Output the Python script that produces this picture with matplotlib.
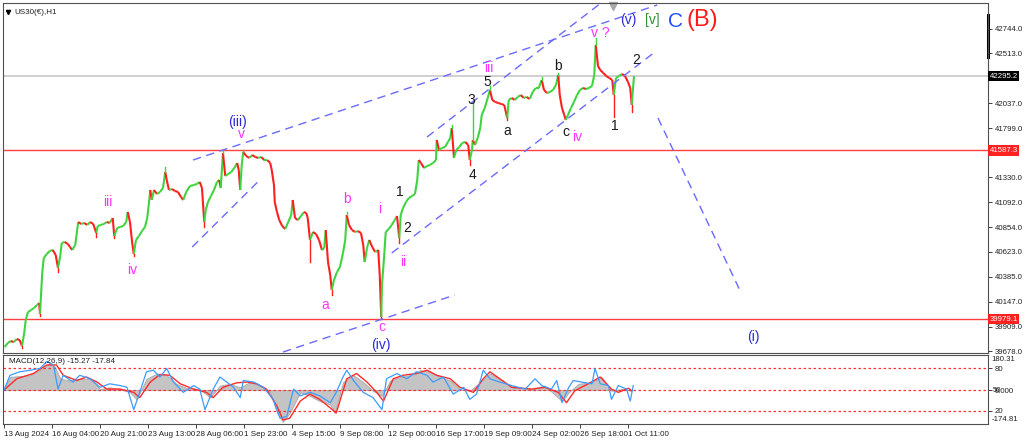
import numpy as np
import matplotlib.pyplot as plt
from matplotlib.collections import LineCollection
from matplotlib.transforms import blended_transform_factory


#############################################################
# US30 H1 price path, hourly bar number since 13 Aug 2024 00:00 and close
bar_a = [1, 5, 9, 13, 17, 21, 24, 27, 29, 32, 36, 40, 44, 47, 48, 51, 53, 57, 61, 65,
         69, 72, 75, 77, 81, 85, 88, 91, 95, 99, 103, 107, 111, 115, 119, 123, 125, 129, 133, 137,
         141, 145, 147, 151, 155, 159, 163, 165, 168, 171, 173, 176, 180, 184, 188, 191, 193, 195, 197, 200,
         204, 208, 212, 215, 217]
close_a = [39716, 39754, 39773, 39763, 39792, 39782, 39725, 39849, 39973, 40049, 40068, 40087, 40116, 40135, 40030, 40420, 40563, 40601, 40630, 40640,
           40592, 40468, 40582, 40706, 40716, 40697, 40668, 40640, 40687, 40906, 40887, 40897, 40878, 40906, 40887, 40801, 40868, 40878, 40887, 40906,
           40897, 40944, 40773, 40849, 40859, 40868, 40906, 41001, 40906, 40706, 40601, 40735, 40773, 40820, 40859, 40944, 41068, 41211, 41116, 41211,
           41173, 41192, 41230, 41382, 41306]

bar_b = [220, 224, 228, 232, 236, 239, 243, 248, 253, 257, 261, 264, 267, 269, 272, 276, 280, 284, 287, 289,
         292, 295, 299, 303, 307, 311, 313, 315, 317, 319, 323, 327, 331, 335, 339, 343, 347, 351, 355, 357,
         360, 361, 364, 367, 371, 375, 379, 383, 385, 388, 392, 396, 400, 403, 405, 408, 412, 416, 420, 424,
         427, 429, 432, 435]
close_b = [41211, 41220, 41201, 41192, 41144, 41116, 41192, 41249, 41258, 41268, 41287, 41230, 40906, 41020, 41097, 41154, 41211, 41287, 41306, 41230,
           41563, 41344, 41363, 41382, 41420, 41468, 41401, 41211, 41449, 41573, 41535, 41516, 41544, 41525, 41516, 41525, 41496, 41496, 41468, 41401,
           41258, 41097, 41001, 40925, 40868, 40839, 40906, 40973, 41116, 40944, 40925, 40963, 41001, 40992, 40944, 40735, 40811, 40792, 40735, 40640,
           40658, 40830, 40525, 40401]

bar_c = [437, 440, 444, 448, 452, 455, 457, 460, 464, 468, 472, 476, 479, 481, 484, 487, 491, 495, 499, 501,
         503, 504, 507, 509, 513, 517, 521, 524, 527, 529, 532, 536, 540, 544, 548, 551, 553, 556, 560, 564,
         568, 572, 576, 577, 580, 584, 588, 592, 595, 597, 600, 603, 607, 611, 615, 619, 621, 624, 625, 628,
         632, 635, 637, 641, 645, 648]
close_c = [40259, 40354, 40430, 40478, 40611, 40735, 40973, 40878, 40830, 40811, 40820, 40801, 40687, 40525, 40658, 40735, 40668, 40620, 40640, 40401,
           40002, 40306, 40592, 40811, 40839, 40878, 40925, 40963, 40754, 40973, 41039, 41097, 41135, 41154, 41173, 41306, 41496, 41468, 41420, 41439,
           41449, 41468, 41496, 41687, 41592, 41611, 41620, 41668, 41706, 41801, 41516, 41592, 41620, 41658, 41668, 41639, 41496, 41592, 41687, 41639,
           41715, 41801, 41925, 41992, 42087, 42163]

bar_d = [651, 655, 659, 663, 667, 671, 673, 677, 681, 685, 689, 693, 697, 701, 705, 709, 713, 717, 720, 724,
         728, 732, 736, 739, 741, 744, 747, 749, 752, 756, 760, 764, 768, 772, 776, 780, 784, 787, 789, 792,
         795, 799, 803, 807, 811, 813, 816, 820, 824, 828, 832, 835, 837, 840]
close_d = [42068, 42049, 42039, 42030, 42020, 41896, 42068, 42087, 42068, 42096, 42115, 42087, 42096, 42077, 42144, 42182, 42182, 42258, 42163, 42134,
           42144, 42163, 42211, 42306, 42115, 41992, 41925, 41877, 41925, 41992, 42049, 42115, 42163, 42182, 42172, 42182, 42201, 42306, 42592, 42392,
           42353, 42325, 42296, 42277, 42258, 42115, 42277, 42296, 42315, 42296, 42239, 42182, 42020, 42295.2]

# wick extremes (high or low) of single bars
spike_bar = [24, 48, 72, 123, 147, 173, 215, 267, 292, 319, 408, 437, 457, 503, 527, 597, 621, 625, 648, 671, 717, 739, 749, 789, 813, 837]
spike_price = [39706, 40011, 40430, 40763, 40754, 40582, 41430, 40859, 41592, 41592, 40525, 40211, 41001, 39982, 40706, 41830, 41449, 42039, 42201, 41877, 42287, 42325, 41877, 42658, 41906, 41953]

bid = 42295.2
level_hi = 41587.3
level_lo = 39979.1
price_ticks = [42744.0, 42513.0, 42037.0, 41799.0, 41330.0, 41092.0, 40854.0, 40623.0, 40385.0, 40147.0, 39909.0, 39678.0]

time_ticks = [0, 64, 128, 192, 256, 320, 384, 448, 512, 576, 640, 704, 768, 832]
time_labels = ['13 Aug 2024', '16 Aug 04:00', '20 Aug 21:00', '23 Aug 13:00', '28 Aug 06:00', '1 Sep 23:00', '4 Sep 15:00',
               '9 Sep 08:00', '12 Sep 00:00', '16 Sep 17:00', '19 Sep 09:00', '24 Sep 02:00', '26 Sep 18:00', '1 Oct 11:00']

# MACD pane
hist_bar = [0, 8, 35, 48, 61, 68, 75, 88, 101, 115, 128, 141, 155, 168, 177, 190, 204, 217, 230, 244,
            261, 275, 288, 301, 315, 328, 341, 355, 364, 372, 381, 395, 408, 421, 435, 441, 452, 466, 479, 492,
            504, 515, 528, 541, 555, 568, 581, 595, 608, 621, 635, 648, 661, 677, 704, 721, 744, 753, 766, 784,
            797, 810, 824, 837]
hist_val = [0, 68, 76, 102, 138, 120, 58, 49, 58, 58, 5, 14, 5, -12, -48, 58, 85, 76, 32, 9,
            5, -39, 23, 32, 14, 41, 23, -12, -118, -163, -118, -12, -30, -57, -74, -118, 41, 76, 41, -4,
            -30, 49, 67, 76, 102, 94, 67, 49, 5, -4, 41, 85, 58, 14, 5, 23, -57, -12, 32, 41,
            67, -4, 5, -4]
sig_bar = [0, 17, 39, 57, 70, 79, 97, 110, 124, 137, 155, 173, 181, 195, 208, 221, 235, 253, 270, 279,
           292, 310, 324, 337, 350, 364, 372, 381, 395, 408, 421, 435, 443, 457, 470, 484, 497, 506, 519, 532,
           550, 564, 577, 595, 608, 626, 639, 648, 661, 677, 704, 721, 739, 750, 761, 779, 795, 810, 819, 833, 837]
sig_val = [0, 58, 85, 129, 129, 76, 49, 67, 41, 5, 5, -12, -39, 41, 80, 76, 32, 5, -12, -39,
           14, 37, 41, 32, 5, -83, -154, -145, -57, -21, -48, -92, -118, 58, 85, 41, -12, -57, 58, 76,
           85, 102, 76, 58, 14, -12, 58, 94, 58, 14, 5, 14, -12, -65, -4, 32, 67, 5, -12, 9, -4]
blue_bar = [0, 8, 21, 35, 48, 57, 66, 72, 79, 92, 101, 115, 128, 141, 155, 164, 173, 181, 190, 199,
            208, 217, 226, 239, 253, 261, 268, 279, 288, 297, 306, 315, 319, 333, 346, 359, 368, 377, 386, 395,
            408, 421, 435, 443, 452, 457, 466, 479, 492, 504, 510, 524, 537, 550, 564, 572, 586, 599, 613, 621,
            630, 639, 648, 661, 677, 695, 708, 717, 730, 737, 744, 753, 759, 770, 784, 788, 795, 806, 810, 819,
            830, 835, 839]
blue_val = [0, 76, 94, 102, 111, 147, 129, 5, 76, 41, 76, 58, 14, 32, 23, 14, -101, -12, 94, 102,
            67, 111, 41, -12, 23, 5, -101, 5, 67, 41, 14, -39, 49, 41, 14, -48, -145, -136, 5, -30,
            -12, -30, -65, -12, 67, 102, 49, -12, -39, -101, 58, 85, 58, 94, 76, 41, 67, -21, 14, -48,
            -21, 102, 58, 41, 23, 5, 58, 23, 5, 49, -65, 14, 49, 41, 32, 111, 32, 23, -48, 23,
            5, -57, 23]
macd_max, macd_min = 180.31, -174.81


##############################################
plt.rcParams['font.family'] = ['Liberation Sans', 'DejaVu Sans']
small = 5.6   # right-hand price scale
xsmall = 5.8  # time scale / captions

W, H = 1024.0, 441.0
fig = plt.figure(figsize=(10.24, 4.41), dpi=100)
ax = fig.add_axes([3 / W, 1 - 353 / H, 985 / W, 350 / H])
ax2 = fig.add_axes([3 / W, 1 - 424 / H, 985 / W, 69 / H], sharex=ax)

green, red = '#3fd43f', '#ff1f1f'
magenta, blue, cblue, black, dgreen = '#ff33ff', '#2a2ad8', '#1f4fff', '#1a1a1a', '#2d8f2d'

bars = np.array(bar_a + bar_b + bar_c + bar_d, float)
closes = np.array(close_a + close_b + close_c + close_d, float)

segs = [[(bars[i - 1], closes[i - 1]), (bars[i], closes[i])] for i in range(1, len(bars))]
cols = [green if closes[i] >= closes[i - 1] else red for i in range(1, len(bars))]
ax.add_collection(LineCollection(segs, colors=cols, linewidths=1.5, zorder=3))

lookup = dict(zip(bars, closes))
for b, p in zip(spike_bar, spike_price):
    c = lookup[b]
    ax.plot([b, b], [c, p], color=green if p > c else red, lw=1.0, zorder=3)

ax.axhline(bid, color='#c8c8c8', lw=1.2, zorder=1)
ax.axhline(level_hi, color='#ff4040', lw=1, zorder=2)
ax.axhline(level_lo, color='#ff4040', lw=1, zorder=2)

# hand drawn trend lines
trend = [((252, 41496), (871, 42972)), ((564, 41715), (796, 42991)), ((251, 40668), (341, 41306)),
         ((372, 39668), (601, 40211)), ((517, 40611), (868, 42525)), ((872, 41896), (981, 40259))]
for (b0, p0), (b1, p1) in trend:
    ax.plot([b0, b1], [p0, p1], color='#6a6aff', lw=1, dashes=(6, 4), zorder=4)

# wave count
waves = [('(iii)', 312, 41858, blue, 10), ('v', 317, 41744, magenta, 10), ('iii', 139, 41097, magenta, 10),
         ('iv', 171, 40449, magenta, 10), ('a', 428, 40116, magenta, 10), ('b', 457, 41125, magenta, 10),
         ('i', 501, 41030, magenta, 10), ('ii', 533, 40525, magenta, 10), ('c', 504, 39906, magenta, 10),
         ('(iv)', 503, 39735, blue, 10), ('1', 528, 41192, black, 10), ('2', 537, 40849, black, 10),
         ('4', 625, 41354, black, 10), ('3', 623, 42068, black, 10), ('5', 645, 42239, black, 10),
         ('iii', 647, 42373, magenta, 10), ('a', 671, 41773, black, 10), ('b', 739, 42392, black, 10),
         ('c', 749, 41763, black, 10), ('iv', 764, 41715, magenta, 10), ('v ?', 795, 42706, magenta, 10),
         ('1', 815, 41820, black, 10), ('2', 843, 42449, black, 10), ('(v)', 833, 42830, blue, 10),
         ('[v]', 864, 42830, dgreen, 10), ('C', 895, 42811, cblue, 15), ('(B)', 931, 42830, '#ff1a1a', 17),
         ('(i)', 999, 39811, blue, 10)]
for txt, b, p, col, fs in waves:
    ax.text(b, p, txt, color=col, fontsize=fs, ha='center', va='center', zorder=5)

ax.set_xlim(-1.3, 1312)
ax.set_ylim(39659, 42991)
ax.yaxis.tick_right()
ax.set_yticks(price_ticks)
ax.set_yticklabels(['%.1f' % v for v in price_ticks])
ax.tick_params(axis='y', labelsize=small, length=3, pad=2, width=0.6, colors='#202020')
ax.tick_params(axis='x', bottom=False, labelbottom=False)
for s in ax.spines.values():
    s.set_color('#505050')
    s.set_linewidth(0.8)

tr = blended_transform_factory(ax.transAxes, ax.transData)
ax.text(1.0015, bid, '42295.2', transform=tr, ha='left', va='center', fontsize=small, color='white',
        bbox=dict(boxstyle='square,pad=0.2', fc='black', ec='none'), zorder=6)
for lv in (level_hi, level_lo):
    ax.text(1.0015, lv, '%.1f' % lv, transform=tr, ha='left', va='center', fontsize=small, color='white',
            bbox=dict(boxstyle='square,pad=0.2', fc='#ff2020', ec='none'), zorder=6)

ax.text(0.012, 0.982, 'US30(€),H1', transform=ax.transAxes, fontsize=xsmall, va='top', ha='left', color='#202020')
ax.plot(0.0055, 0.975, marker='v', color='black', ms=3, transform=ax.transAxes)
ax.plot(812, 0.992, marker='v', color='#a8a8a8', ms=6,
        transform=blended_transform_factory(ax.transData, ax.transAxes), clip_on=False)
ax.plot([1.0, 1.0], [0.966, 0.846], transform=ax.transAxes, color='black', lw=2.2, clip_on=False)

##############################################
ax2.fill_between(hist_bar, 0, hist_val, color='#c4c4c4', lw=0.6, edgecolor='#a8a8a8')
for v in (111, 0, -106):
    ax2.axhline(v, color='#ff3030', lw=0.9, ls=(0, (2, 2)))
ax2.plot(sig_bar, sig_val, color='#ff2a2a', lw=1)
ax2.plot(blue_bar, blue_val, color='#3d9bff', lw=0.9)
ax2.set_ylim(macd_min, macd_max)
ax2.yaxis.tick_right()
ax2.set_yticks([111, 0, -106])
ax2.set_yticklabels(['80', '0.000', '20'])
ax2.tick_params(axis='y', labelsize=small, length=3, pad=2, width=0.6, colors='#202020')
tr2 = blended_transform_factory(ax2.transAxes, ax2.transData)
ax2.text(1.0045, 0, '50', transform=tr2, fontsize=small, va='center', ha='left', color='#202020')
ax2.text(1.0035, 0.93, '180.31', transform=ax2.transAxes, fontsize=small, va='center', ha='left', color='#202020')
ax2.text(1.0035, 0.07, '-174.81', transform=ax2.transAxes, fontsize=small, va='center', ha='left', color='#202020')
ax2.text(0.006, 0.90, 'MACD(12,26,9) -15.27 -17.84', transform=ax2.transAxes, fontsize=xsmall, va='center',
         ha='left', color='#202020')

ax2.set_xticks(time_ticks)
ax2.set_xticklabels(time_labels, ha='left')
ax2.tick_params(axis='x', labelsize=xsmall, length=3, pad=2, width=0.6, colors='#202020')
for s in ax2.spines.values():
    s.set_color('#505050')
    s.set_linewidth(0.8)

fig.savefig('out.png', dpi=100, facecolor='white')
